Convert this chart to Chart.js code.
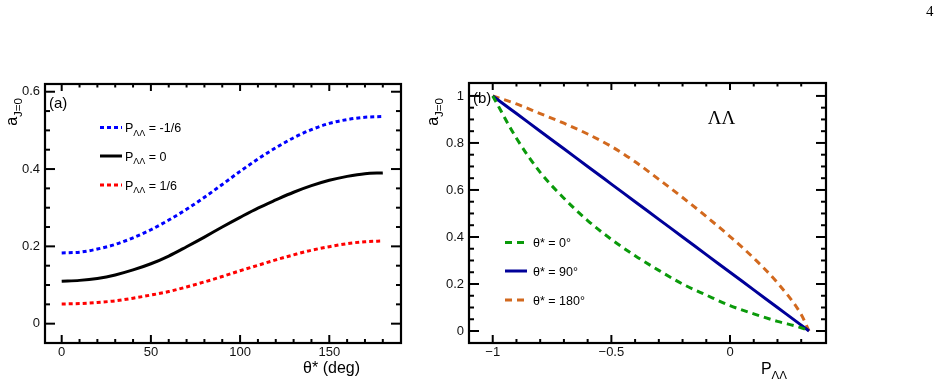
<!DOCTYPE html>
<html>
<head>
<meta charset="utf-8">
<script src="https://cdn.jsdelivr.net/npm/chart.js@4.4.1/dist/chart.umd.min.js"></script>
<style>
  html, body { margin: 0; padding: 0; background: #fff; }
  #wrap { position: relative; width: 945px; height: 385px; overflow: hidden; }
  .pane { position: absolute; top: 0; height: 385px; }
  #pageno { position: absolute; left: 926px; top: 3px; font: 15px "Liberation Serif", "Times New Roman", serif; color: #000; }
</style>
</head>
<body>
<div id="wrap">
  <div class="pane" style="left:0;width:420px"><canvas id="chartA"></canvas></div>
  <div class="pane" style="left:420px;width:525px"><canvas id="chartB"></canvas></div>
  <div id="pageno">4</div>
</div>
<script>
// panel (a): a_J=0 vs theta* for three P_LL values
const thetaDeg = [0, 10, 20, 30, 40, 50, 60, 70, 80, 90, 100, 110, 120, 130, 140, 150, 160, 170, 180];
const aPminus = [0.183, 0.185, 0.193, 0.205, 0.222, 0.243, 0.268, 0.296, 0.327, 0.360, 0.394, 0.426, 0.455, 0.481, 0.502, 0.518, 0.528, 0.534, 0.536];
const aPzero  = [0.110, 0.112, 0.117, 0.126, 0.139, 0.155, 0.175, 0.199, 0.224, 0.250, 0.275, 0.299, 0.320, 0.340, 0.357, 0.371, 0.381, 0.388, 0.390];
const aPplus  = [0.051, 0.052, 0.055, 0.059, 0.066, 0.074, 0.083, 0.095, 0.108, 0.122, 0.137, 0.151, 0.165, 0.178, 0.190, 0.199, 0.207, 0.212, 0.214];

// panel (b): a_J=0 vs P_LL for three theta* values
const pLL       = [-1, -0.9, -0.8, -0.7, -0.6, -0.5, -0.4, -0.3, -0.2, -0.1, 0, 0.1, 0.2, 0.3, 0.333];
const aTheta0   = [1.0, 0.820, 0.675, 0.565, 0.470, 0.390, 0.320, 0.258, 0.200, 0.153, 0.108, 0.073, 0.041, 0.014, 0];
const aTheta90  = [1.0, 0.925, 0.850, 0.775, 0.700, 0.625, 0.550, 0.475, 0.400, 0.325, 0.250, 0.175, 0.100, 0.025, 0];
const aTheta180 = [1.0, 0.966, 0.925, 0.884, 0.838, 0.785, 0.720, 0.645, 0.568, 0.487, 0.402, 0.310, 0.205, 0.070, 0];

// tick labels
const xTicksA = [0, 50, 100, 150];
const xTickLabelsA = ['0', '50', '100', '150'];
const yTicksA = [0, 0.2, 0.4, 0.6];
const yTickLabelsA = ['0', '0.2', '0.4', '0.6'];
const xTicksB = [-1, -0.5, 0];
const xTickLabelsB = ['\u22121', '\u22120.5', '0'];
const yTicksB = [0, 0.2, 0.4, 0.6, 0.8, 1];
const yTickLabelsB = ['0', '0.2', '0.4', '0.6', '0.8', '1'];

const SANS = '"Liberation Sans", Arial, Helvetica, sans-serif';
const SERIF = '"Liberation Serif", "Times New Roman", serif';

// split "P_{xx} = 1" into normal / subscript pieces
function richParts(str) {
  const parts = [];
  const re = /_\{([^}]*)\}/g;
  let last = 0, m;
  while ((m = re.exec(str))) {
    if (m.index > last) parts.push({ t: str.slice(last, m.index), sub: false });
    parts.push({ t: m[1], sub: true });
    last = re.lastIndex;
  }
  if (last < str.length) parts.push({ t: str.slice(last), sub: false });
  return parts;
}

function drawRich(ctx, str, x, y, size, align) {
  const parts = richParts(str);
  const font = sub => (sub ? size * 0.72 : size) + 'px ' + SANS;
  let w = 0;
  parts.forEach(p => { ctx.font = font(p.sub); p.w = ctx.measureText(p.t).width; w += p.w; });
  let cx = align === 'right' ? x - w : align === 'center' ? x - w / 2 : x;
  ctx.textAlign = 'left';
  ctx.textBaseline = 'alphabetic';
  parts.forEach(p => {
    ctx.font = font(p.sub);
    ctx.fillText(p.t, cx, y + (p.sub ? size * 0.3 : 0));
    cx += p.w;
  });
}

function seg(ctx, x1, y1, x2, y2) {
  ctx.beginPath(); ctx.moveTo(x1, y1); ctx.lineTo(x2, y2); ctx.stroke();
}

// ROOT-like frame: inward ticks on all four sides, labels, titles, legend
const rootFrame = {
  id: 'rootFrame',
  afterDraw(chart, args, o) {
    const { ctx, chartArea: a, scales: { x, y } } = chart;
    ctx.save();
    ctx.strokeStyle = '#000';
    ctx.fillStyle = '#111';
    ctx.lineWidth = 2;
    ctx.lineCap = 'butt';

    const steps = (min, max, step) => {
      const out = [];
      for (let i = Math.ceil(min / step); i * step <= max; i++) out.push(i * step);
      return out;
    };
    const isMajor = (v, list) => list.some(t => Math.abs(t - v) < 1e-6);

    steps(x.min, x.max, o.xMinor).forEach(v => {
      const px = x.getPixelForValue(v);
      if (px < a.left + 2 || px > a.right - 2) return;
      const big = isMajor(v, o.xTicks);
      seg(ctx, px, a.bottom, px, a.bottom - (big ? 8 : 4));
      seg(ctx, px, a.top, px, a.top + (big ? 7 : 3.5));
    });
    steps(y.min, y.max, o.yMinor).forEach(v => {
      const py = y.getPixelForValue(v);
      if (py < a.top + 2 || py > a.bottom - 2) return;
      const big = isMajor(v, o.yTicks);
      seg(ctx, a.left, py, a.left + (big ? 10 : 5), py);
      seg(ctx, a.right, py, a.right - (big ? 10 : 5), py);
    });

    ctx.lineWidth = 2.2;
    ctx.strokeRect(a.left, a.top, a.right - a.left, a.bottom - a.top);

    // tick labels
    ctx.font = '13px ' + SANS;
    ctx.textAlign = 'center';
    ctx.textBaseline = 'middle';
    o.xTicks.forEach((v, i) => ctx.fillText(o.xLabels[i], x.getPixelForValue(v), a.bottom + 9));
    ctx.textAlign = 'right';
    o.yTicks.forEach((v, i) => ctx.fillText(o.yLabels[i], a.left - 5, y.getPixelForValue(v)));

    // axis titles
    ctx.fillStyle = '#000';
    drawRich(ctx, o.xTitle.text, o.xTitle.x, o.xTitle.y, 16, 'right');
    ctx.save();
    ctx.translate(o.yTitle.x, o.yTitle.y);
    ctx.rotate(-Math.PI / 2);
    drawRich(ctx, o.yTitle.text, 0, 0, 16, 'right');
    ctx.restore();

    // panel tag
    ctx.font = '15px ' + SANS;
    ctx.textAlign = 'left';
    ctx.textBaseline = 'middle';
    ctx.fillText(o.tag.text, o.tag.x, o.tag.y);
    if (o.note) {
      ctx.font = '19px ' + SERIF;
      ctx.textAlign = 'center';
      ctx.textBaseline = 'alphabetic';
      ctx.fillText(o.note.text, o.note.x, o.note.y);
    }

    // legend
    const L = o.legend;
    chart.data.datasets.forEach((ds, i) => {
      const ly = L.ys[i];
      ctx.strokeStyle = ds.borderColor;
      ctx.lineWidth = ds.borderWidth;
      ctx.setLineDash(ds.borderDash || []);
      seg(ctx, L.x0, ly, L.x1, ly);
      ctx.setLineDash([]);
      ctx.fillStyle = '#000';
      drawRich(ctx, ds.label, L.textX, ly + 4.5, 12.5, 'left');
    });
    ctx.restore();
  }
};

function xy(xs, ys) { return xs.map((v, i) => ({ x: v, y: ys[i] })); }

function lineSet(label, xs, ys, color, width, dash) {
  return {
    label, data: xy(xs, ys), borderColor: color, borderWidth: width,
    borderDash: dash, borderCapStyle: 'butt', pointRadius: 0,
    cubicInterpolationMode: 'monotone', fill: false
  };
}

function baseOptions(xr, yr, pad, frame) {
  return {
    responsive: true, maintainAspectRatio: false, animation: false, events: [],
    layout: { padding: pad },
    scales: {
      x: { type: 'linear', min: xr[0], max: xr[1], display: false },
      y: { type: 'linear', min: yr[0], max: yr[1], display: false }
    },
    plugins: { legend: { display: false }, tooltip: { enabled: false }, rootFrame: frame }
  };
}

new Chart(document.getElementById('chartA'), {
  type: 'line',
  data: {
    datasets: [
      lineSet('P_{\u039B\u039B} = -1/6', thetaDeg, aPminus, '#0000ff', 3, [4, 3]),
      lineSet('P_{\u039B\u039B} = 0', thetaDeg, aPzero, '#000000', 3, []),
      lineSet('P_{\u039B\u039B} = 1/6', thetaDeg, aPplus, '#ff0000', 3, [4, 3])
    ]
  },
  options: baseOptions([-9.36, 190.2], [-0.05, 0.62], { left: 45, top: 84, right: 19, bottom: 42 }, {
    xTicks: xTicksA, xLabels: xTickLabelsA, xMinor: 10,
    yTicks: yTicksA, yLabels: yTickLabelsA, yMinor: 0.05,
    xTitle: { text: '\u03B8* (deg)', x: 360, y: 373 },
    yTitle: { text: 'a_{J=0}', x: 17, y: 98 },
    tag: { text: '(a)', x: 49, y: 104 },
    legend: { x0: 100, x1: 122, textX: 125, ys: [127.5, 156, 185] }
  }),
  plugins: [rootFrame]
});

new Chart(document.getElementById('chartB'), {
  type: 'line',
  data: {
    datasets: [
      lineSet('\u03B8* = 0\u00B0', pLL, aTheta0, '#0a9a0a', 3, [7, 5]),
      lineSet('\u03B8* = 90\u00B0', pLL, aTheta90, '#000099', 3, []),
      lineSet('\u03B8* = 180\u00B0', pLL, aTheta180, '#d2691e', 3, [7, 5])
    ]
  },
  options: baseOptions([-1.1, 0.4045], [-0.051, 1.055], { left: 49, top: 83, right: 119, bottom: 42 }, {
    xTicks: xTicksB, xLabels: xTickLabelsB, xMinor: 0.1,
    yTicks: yTicksB, yLabels: yTickLabelsB, yMinor: 0.05,
    xTitle: { text: 'P_{\u039B\u039B}', x: 367, y: 374 },
    yTitle: { text: 'a_{J=0}', x: 18, y: 98 },
    tag: { text: '(b)', x: 53, y: 99 },
    note: { text: '\u039B\u039B', x: 301.5, y: 123.5 },
    legend: { x0: 85, x1: 107, textX: 113, ys: [242.5, 271, 300] }
  }),
  plugins: [rootFrame]
});
</script>
</body>
</html>
